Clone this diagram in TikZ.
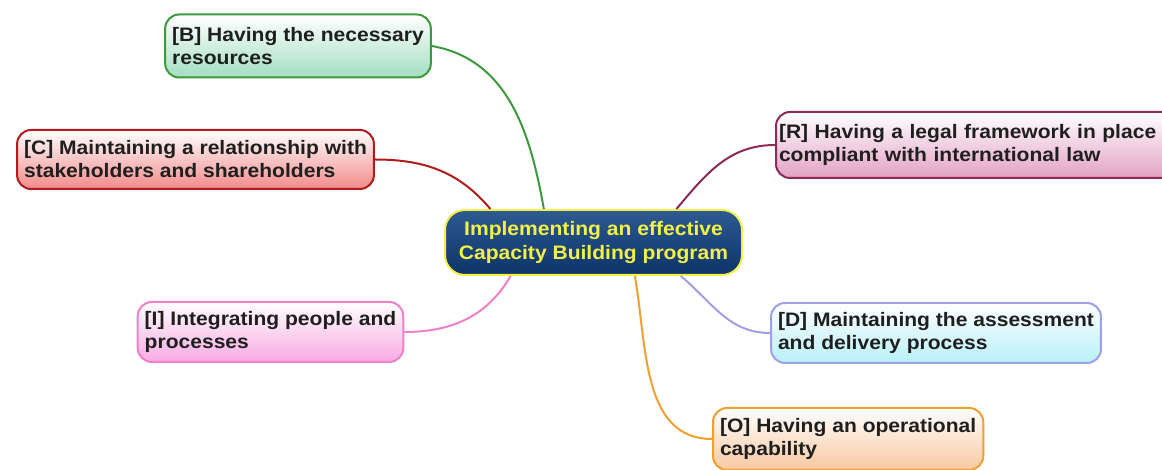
\documentclass[tikz,border=0pt]{standalone}
\usepackage{fontspec}
\setmainfont{Liberation Sans}[FakeStretch=1.08]
\usetikzlibrary{positioning}
\definecolor{bline}{HTML}{3C9A3C}
\definecolor{bfill}{HTML}{A4DEC2}
\definecolor{cline}{HTML}{B01C1C}
\definecolor{cfill}{HTML}{F28A8A}
\definecolor{rline}{HTML}{8C2A58}
\definecolor{rfill}{HTML}{E2A2C4}
\definecolor{iline}{HTML}{F080C8}
\definecolor{ifill}{HTML}{F8AAE2}
\definecolor{dline}{HTML}{A0A0E8}
\definecolor{dfill}{HTML}{B8F0F8}
\definecolor{oline}{HTML}{F0A030}
\definecolor{ofill}{HTML}{F8C8A0}
\definecolor{ctop}{HTML}{2C5A92}
\definecolor{cbot}{HTML}{0C3468}
\definecolor{cyel}{HTML}{F4F048}
\tikzset{%
  sub/.style = {rectangle,rounded corners=14pt,draw,line width=2pt,
        inner xsep=7pt,align=left,minimum height=60pt,text=black!88,
        font=\fontsize{19.5}{23}\selectfont\bfseries},
  topic/.style = {rectangle,rounded corners=20pt,draw=cyel,line width=2pt,
        top color=ctop,bottom color=cbot,text=cyel,align=center,
        minimum width=297pt,minimum height=65pt,
        font=\fontsize{19.5}{24}\selectfont\bfseries},
  link/.style = {line width=2pt}
}
\begin{document}
\begin{tikzpicture}[x=1pt,y=1pt]
    \useasboundingbox[fill=white] (0,0) rectangle (1162,470);
    \node[topic] (ctr) at (593.5,227.5) {Implementing an effective\\Capacity Building program};
    \node[sub,draw=bline,top color=white,bottom color=bfill,minimum height=63pt] (res) at (298,424)
        {[B] Having the necessary\\resources};
    \node[sub,draw=cline,top color=white,bottom color=cfill,minimum height=59pt] (rel) at (195.5,310.5)
        {[C] Maintaining a relationship with\\stakeholders and shareholders};
    \node[sub,draw=rline,top color=white,bottom color=rfill,minimum height=66pt,
        inner xsep=3pt,text width=400pt,anchor=west] (leg) at (775,325)
        {[R] Having a legal framework in place\\compliant with international law};
    \node[sub,draw=iline,top color=white,bottom color=ifill] (int) at (270.5,138)
        {[I] Integrating people and\\processes};
    \node[sub,draw=dline,top color=white,bottom color=dfill] (ass) at (936,137)
        {[D] Maintaining the assessment\\and delivery process};
    \node[sub,draw=oline,top color=white,bottom color=ofill,minimum height=62pt,anchor=west] (ops) at (712,31)
        {[O] Having an operational\\capability};
    % branches
    \draw[link,bline] (ctr.146) to[out=100,in=-10] (res.east);
    \draw[link,cline] (ctr.162) to[out=130,in=0] (rel.east);
    \draw[link,rline] (ctr.22) to[out=50,in=180] (leg.west);
    \draw[link,iline] (ctr.202) to[out=-120,in=0] (int.east);
    \draw[link,dline] (ctr.-21) to[out=-40,in=180] (ass.west);
    \draw[link,oline] (ctr.-39) to[out=-80,in=180] (ops.west);
\end{tikzpicture}
\end{document}
